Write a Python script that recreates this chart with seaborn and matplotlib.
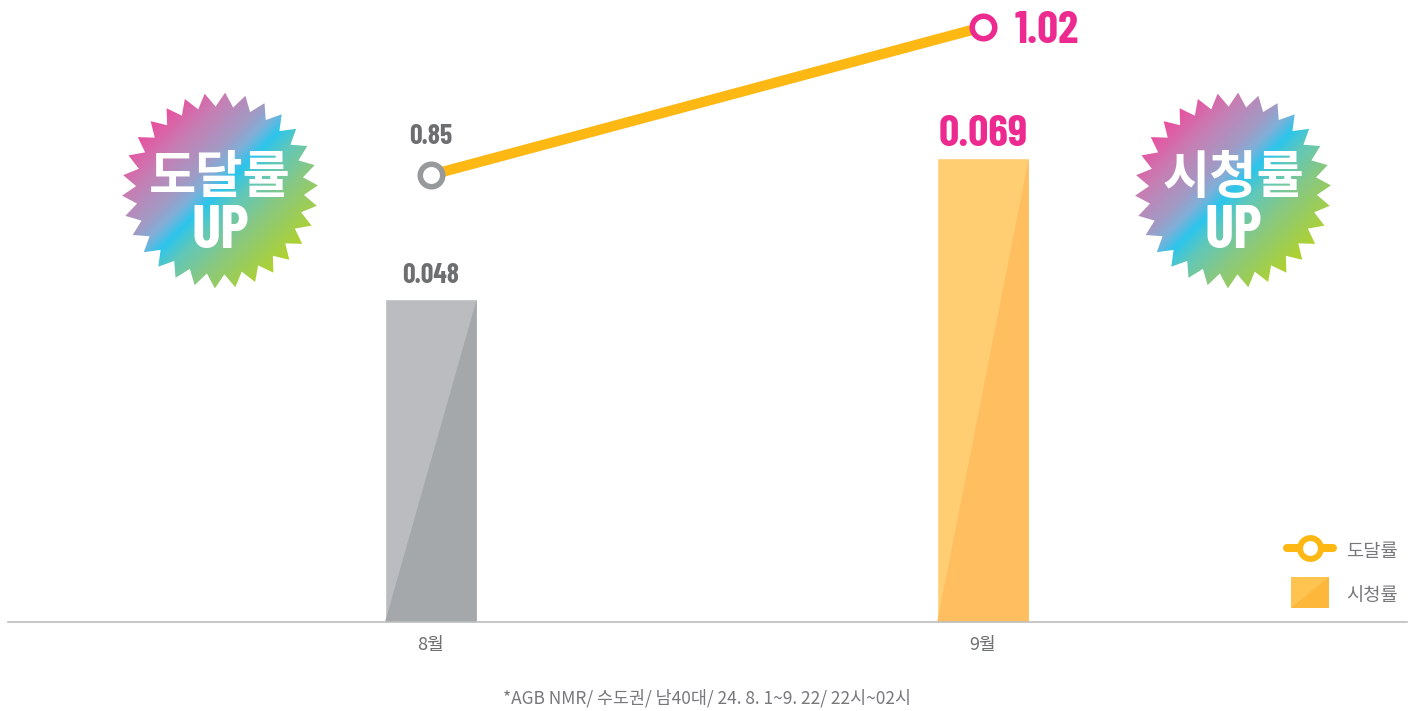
import numpy as np
import pandas as pd
import seaborn as sns
import matplotlib
matplotlib.use('Agg')
import matplotlib.pyplot as plt
from matplotlib.colors import LinearSegmentedColormap
from matplotlib.patches import Polygon

months = ['8월', '9월']
ratings = [0.048, 0.069]
reach = [0.85, 1.02]
rating_labels = ['0.048', '0.069']
reach_labels = ['0.85', '1.02']
legend_labels = ['도달률', '시청률']
badge_words = ['도달률', '시청률']
footnote = '*AGB NMR/ 수도권/ 남40대/ 24. 8. 1~9. 22/ 22시~02시'

sns.set_style('white')
KR = ['Noto Sans CJK KR', 'DejaVu Sans']
NUM = ['Barlow Condensed', 'Noto Sans CJK KR', 'DejaVu Sans']
plt.rcParams['font.family'] = KR

W, H = 1410, 711
fig = plt.figure(figsize=(W / 100, H / 100), dpi=100)
ax = fig.add_axes([8 / W, 1 - 622 / H, 1399 / W, 622 / H])

# bars
df = pd.DataFrame({'month': months, 'rating': ratings})
sns.barplot(data=df, x='month', y='rating', hue='month', palette=['#BBBCC0', '#FFCE73'],
            width=0.166, legend=False, saturation=1, ax=ax)
ax.set_xlim(-0.766, 1.768)
ax.set_ylim(0, 0.0925)

# darker triangle inside each bar
for bar, shade in zip(ax.patches, ['#A5A8AA', '#FFBE5F']):
    x0, w, h = bar.get_x(), bar.get_width(), bar.get_height()
    ax.add_patch(Polygon([(x0, 0), (x0 + w, h), (x0 + w, 0)], closed=True, fc=shade, ec='none', zorder=bar.get_zorder() + 0.1))

sns.despine(ax=ax, left=True)
ax.spines['bottom'].set_color('#BDBDBD')
ax.spines['bottom'].set_linewidth(1.2)
ax.set_yticks([])
ax.set_xlabel('')
ax.set_ylabel('')
ax.tick_params(axis='x', length=0, pad=10, labelsize=13, labelcolor='#6D6E70')

# bar labels
for i, (v, s) in enumerate(zip(ratings, rating_labels)):
    big = i == 1
    ax.annotate(s, (i, v), xytext=(0, 3 if big else 8), textcoords='offset points', ha='center', va='bottom',
                family=NUM, weight='bold', fontsize=32 if big else 20,
                color='#EC2A90' if big else '#6D6E70')

# reach line on its own scale
ax2 = ax.twinx()
ax2.patch.set_visible(False)
ax2.set_ylim(0.3366, 1.051)
ax2.set_yticks([])
sns.despine(ax=ax2, left=True, right=True, bottom=True)
sns.lineplot(x=[0, 1], y=reach, color='#FDB813', linewidth=7.4, ax=ax2, legend=False, solid_capstyle='butt')
for i, (v, edge) in enumerate(zip(reach, ['#98999B', '#EC2A90'])):
    ax2.plot([i], [v], marker='o', ms=16.2, mew=4, mfc='white', mec=edge, ls='none', clip_on=False, zorder=5)
ax2.annotate(reach_labels[0], (0, reach[0]), xytext=(0, 19), textcoords='offset points', ha='center', va='bottom',
             family=NUM, weight='bold', fontsize=20, color='#6D6E70')
ax2.annotate(reach_labels[1], (1, reach[1]), xytext=(23, -3), textcoords='offset points', ha='left', va='center',
             family=NUM, weight='bold', fontsize=33, color='#EC2A90')
ax2.set_ylabel('')

# overlay in pixel coords for badges, legend and footnote
ov = fig.add_axes([0, 0, 1, 1])
ov.set_xlim(0, W)
ov.set_ylim(H, 0)
ov.axis('off')
ov.patch.set_visible(False)

cmap = LinearSegmentedColormap.from_list('badge', [(0, '#EA4F9F'), (0.18, '#C67FB4'), (0.34, '#A29AC4'),
                                                   (0.42, '#80AFD8'), (0.5, '#2CC5EC'), (0.6, '#62C8B8'),
                                                   (0.75, '#88C882'), (1, '#B0D22E')])


def badge(cx, cy, word):
    n = 30
    ang = np.deg2rad(3) + np.arange(2 * n) * np.pi / n
    rad = np.where(np.arange(2 * n) % 2 == 0, 98, 84)
    star = Polygon(np.c_[cx + rad * np.sin(ang), cy - rad * np.cos(ang)], closed=True, fc='none', ec='none')
    ov.add_patch(star)
    g = np.linspace(-98, 98, 200)
    grid = (g[None, :] + g[:, None]) / 2
    im = ov.imshow(grid, cmap=cmap, extent=[cx - 98, cx + 98, cy + 98, cy - 98], aspect='auto', zorder=2,
                   vmin=-68, vmax=68, interpolation='bilinear')
    im.set_clip_path(star)
    ov.text(cx, cy - 13, word, ha='center', va='center', color='white', weight='black', fontsize=37, zorder=3)
    ov.text(cx, cy + 41, 'UP', ha='center', va='center', color='white', family=NUM, weight='bold', fontsize=44, zorder=3)


badge(220, 190.5, badge_words[0])
badge(1233, 190.5, badge_words[1])
ov.set_xlim(0, W)
ov.set_ylim(H, 0)

# legend
ov.plot([1287, 1333], [548, 548], color='#FDB813', lw=5.8, solid_capstyle='round', zorder=3)
ov.plot([1310], [548], marker='o', ms=15, mew=4.3, mfc='white', mec='#FDB813', ls='none', zorder=4)
ov.add_patch(Polygon([(1291, 577), (1329, 577), (1329, 608), (1291, 608)], fc='#FFC44F', ec='none', zorder=3))
ov.add_patch(Polygon([(1291, 608), (1329, 577), (1329, 608)], fc='#FDB73A', ec='none', zorder=3))
ov.text(1372, 551, legend_labels[0], ha='center', va='center', color='#77787B', fontsize=13.5)
ov.text(1372, 595, legend_labels[1], ha='center', va='center', color='#77787B', fontsize=13.5)

ov.text(707, 698, footnote, ha='center', va='center', color='#77787B', fontsize=12.5)

fig.savefig('out.png', dpi=100)
